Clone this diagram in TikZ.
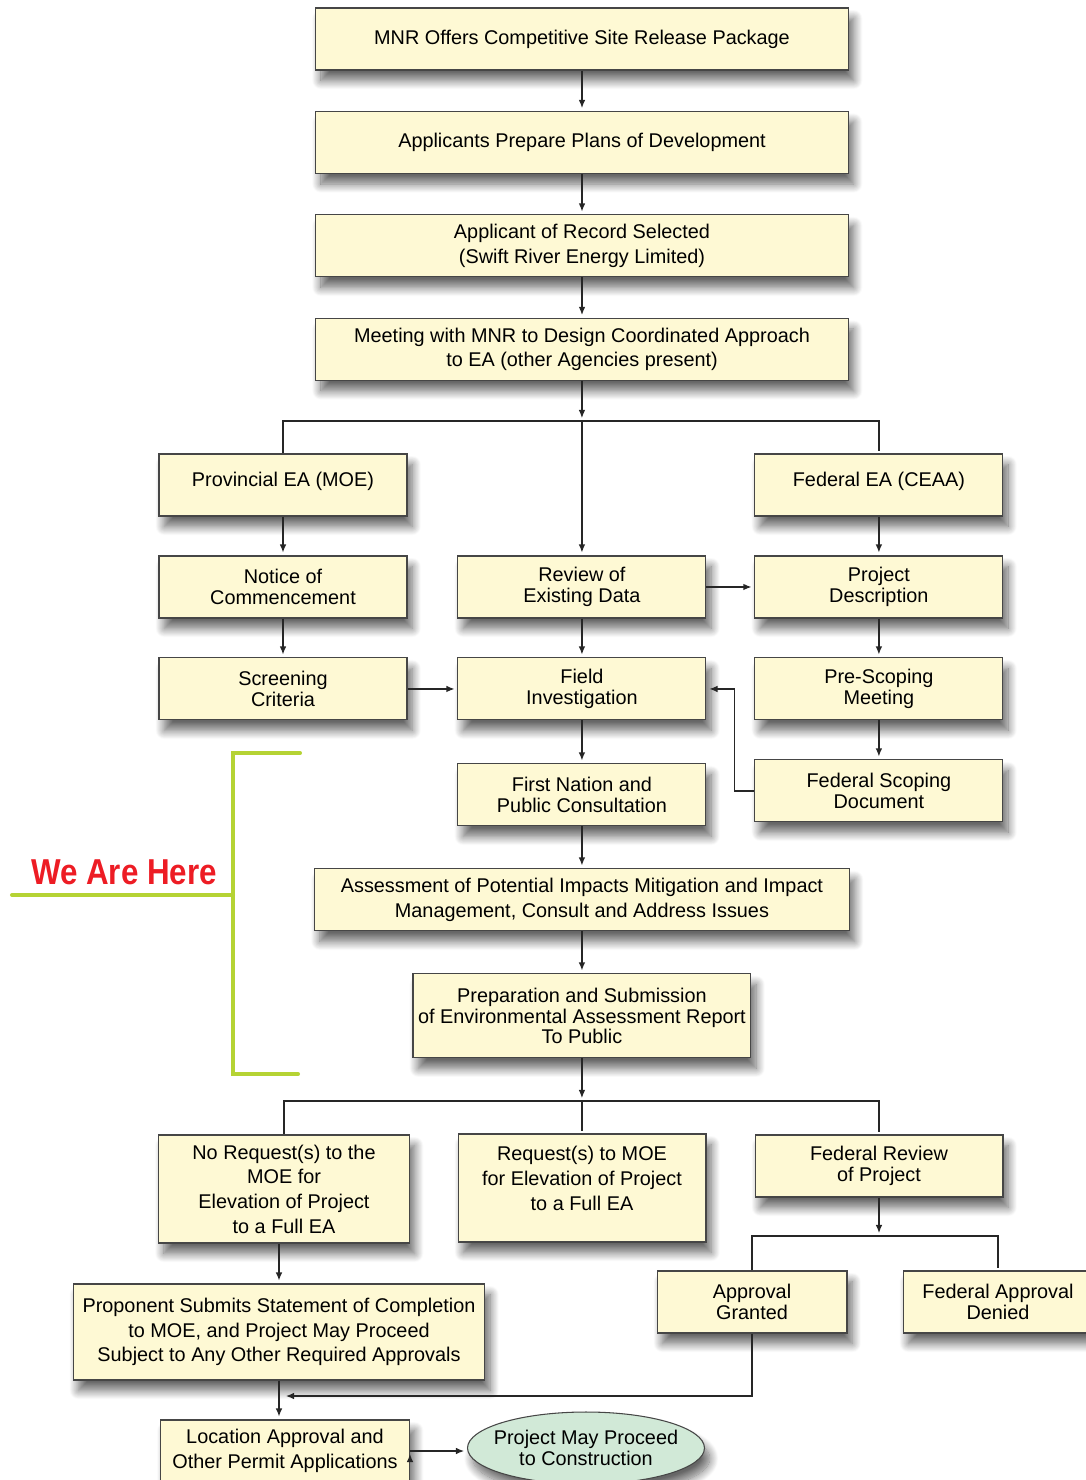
\documentclass[tikz,border=0pt]{standalone}
\usepackage{fontspec}
\setmainfont{Liberation Sans}
\newfontfamily\herefont[FakeStretch=0.87]{Liberation Sans}
\usetikzlibrary{arrows.meta,positioning,shapes.geometric,shadows.blur}

\definecolor{boxfill}{RGB}{254,249,212}
\definecolor{endfill}{RGB}{209,233,215}
\definecolor{boxline}{RGB}{70,70,70}
\definecolor{bracketgreen}{RGB}{181,211,52}
\definecolor{herered}{RGB}{237,28,36}

\newcommand{\liftup}[1]{\\[-#1]\mbox{}}

\begin{document}
\begin{tikzpicture}[auto,>={Latex[length=4.8pt,width=3.8pt]}, x=0.02cm, y=-0.02cm, node distance=2.04cm, font=\fontsize{11.3}{14}\selectfont]
	    \tikzstyle{stage}=[draw=boxline, fill=boxfill, line width=0.6pt, align=center, inner sep=2pt, minimum height=1.24cm,
	        blur shadow={shadow xshift=3pt, shadow yshift=-6pt, shadow blur radius=5pt, shadow blur steps=14, shadow opacity=60}]
	    \tikzstyle{wide}=[stage, minimum width=10.66cm]
	    \tikzstyle{narrow}=[stage, minimum width=4.96cm]
	    \tikzstyle{small}=[stage, minimum width=3.8cm]
	    \tikzstyle{snug}=[font=\fontsize{11.3}{11.6}\selectfont]
	    \tikzstyle{link}=[line width=1pt, draw=black!85, shorten >=1.5pt]
	    \tikzstyle{here}=[line width=2.3pt, draw=bracketgreen, line cap=round]

	    \useasboundingbox (0,0) rectangle (1085,1480);

	    % upper chain
	    \node[wide] (mnr offers) at (582,39) {MNR Offers Competitive Site Release Package};
	    \node[wide] (applicants) [below of=mnr offers, node distance=2.07cm] {Applicants Prepare Plans of Development};
	    \node[wide] (record) [below of=applicants, node distance=2.07cm] {Applicant of Record Selected\\(Swift River Energy Limited)};
	    \node[wide] (meeting) [below of=record, node distance=2.07cm] {Meeting with MNR to Design Coordinated Approach\\to EA (other Agencies present)};

	    % three columns
	    \node[narrow] (provincial) at (283,485) {Provincial EA (MOE)\liftup{7pt}};
	    \node[narrow, snug] (notice) [below of=provincial] {Notice of\\Commencement};
	    \node[narrow, snug] (screening) [below of=notice] {Screening\\Criteria};
	    \node[narrow, snug] (review) [right of=notice, node distance=5.98cm] {Review of\\Existing Data};
	    \node[narrow, snug] (field) [below of=review] {Field\\Investigation};
	    \node[narrow, snug] (first nation) [below of=field, node distance=2.12cm] {First Nation and\\Public Consultation};
	    \node[narrow] (federal) [right of=provincial, node distance=11.92cm] {Federal EA (CEAA)\liftup{7pt}};
	    \node[narrow, snug] (project) [below of=federal] {Project\\Description};
	    \node[narrow, snug] (pre scoping) [below of=project] {Pre-Scoping\\Meeting};
	    \node[narrow, snug] (fed scoping) [below of=pre scoping] {Federal Scoping\\Document};
	    \coordinate (split top) at (review |- 0,421);

	    % assessment
	    \node[wide, minimum width=10.7cm] (assessment) [below of=first nation, node distance=2.1cm] {Assessment of Potential Impacts Mitigation and Impact\\Management, Consult and Address Issues};
	    \node[stage, snug, minimum width=6.76cm, minimum height=1.68cm] (preparation) [below of=assessment, node distance=2.32cm] {Preparation and Submission\\of Environmental Assessment Report\\To Public};
	    \coordinate (split mid) at (preparation |- 0,1101);

	    % outcomes
	    \node[narrow, minimum width=5.02cm, minimum height=2.16cm] (no request) at (284,1189) {No Request(s) to the\\MOE for\\Elevation of Project\\to a Full EA};
	    \node[narrow, minimum height=2.16cm] (request) at (582,1188) {Request(s) to MOE\\for Elevation of Project\\to a Full EA\liftup{3pt}};
	    \node[narrow, snug] (federal review) at (879,1166) {Federal Review\\of Project};
	    \coordinate (split low) at (federal review |- 0,1236);
	    \node[small, snug] (granted) at (752,1302) {Approval\\Granted};
	    \node[small, snug] (denied) at (998,1302) {Federal Approval\\Denied};
	    \node[stage, minimum width=8.24cm, minimum height=1.92cm] (proponent) at (279,1332) {Proponent Submits Statement of Completion\\to MOE, and Project May Proceed\\Subject to Any Other Required Approvals};
	    \node[narrow, minimum width=4.98cm] (location) at (285,1451) {Location Approval and\\Other Permit Applications};
	    \node[stage, snug, ellipse, fill=endfill, inner sep=0pt, minimum width=4.74cm, minimum height=1.44cm] (construction) at (586,1448)
	        {\makebox[0pt]{Project May Proceed}\\\makebox[0pt]{to Construction}};
	    \coordinate (merge) at (283,1396);

	    % connectors
	    \path[link, ->]
	    (mnr offers)	edge	(applicants)
	    (applicants)	edge	(record)
	    (record)	edge	(meeting)
	    (meeting)	edge	(split top)
	    (split top)	edge	(review)
	    (provincial)	edge	(notice)
	    (notice)	edge	(screening)
	    (federal)	edge	(project)
	    (project)	edge	(pre scoping)
	    (pre scoping)	edge	(fed scoping)
	    (review)	edge	(project)
	    (review)	edge	(field)
	    (screening)	edge	(field)
	    (field)	edge	(first nation)
	    (first nation)	edge	(assessment)
	    (assessment)	edge	(preparation)
	    (preparation)	edge	(split mid)
	    (federal review)	edge	(split low)
	    (proponent.north |- no request.south)	edge	(proponent)
	    (proponent)	edge	(proponent |- location.north)
	    (location.east)	edge	(location.east -| construction.west)
	    ;
	    \draw[link, ->] (fed scoping.west) -- ++(-20,0) |- (field.east);
	    \draw[link, ->] (granted) |- (merge);
	    \draw[link] (provincial.north) |- (split top) -| (federal.north);
	    \draw[link] (no request.north) |- (split mid) -| (federal review.north);
	    \draw[link] (split mid) -- (split mid |- request.north);
	    \draw[link] (granted.north) |- (split low) -| (denied.north);

	    % we are here bracket
	    \draw[here] (300,753) -- (233,753) -- (233,1074) -- (298,1074);
	    \draw[here] (233,895) -- (12,895);
	    \node[anchor=base, text=herered, font=\herefont\bfseries\fontsize{20.5}{24}\selectfont] (we are here) at (124,884) {We Are Here};
\end{tikzpicture}
\end{document}
